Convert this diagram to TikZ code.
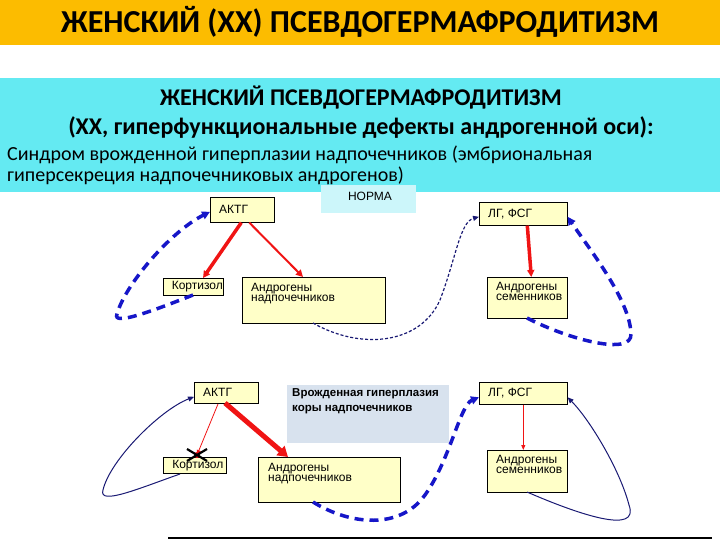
\documentclass[tikz,border=0pt]{standalone}
\usepackage{fontspec}
\setmainfont{Carlito}
\newfontfamily\arialf{Liberation Sans}
\usetikzlibrary{arrows.meta}
\definecolor{titleorange}{RGB}{252,188,0}
\definecolor{cyanband}{RGB}{100,234,242}
\definecolor{normacyan}{RGB}{204,246,250}
\definecolor{boxyellow}{RGB}{255,255,200}
\definecolor{greyblue}{RGB}{216,226,238}
\definecolor{dblue}{RGB}{22,22,200}
\definecolor{navy}{RGB}{25,25,115}
\definecolor{arrred}{RGB}{240,20,20}
\definecolor{baseline}{RGB}{70,85,110}
\tikzset{
  ybox/.style={draw=black, line width=0.6pt, fill=boxyellow, inner sep=0pt, anchor=north west},
  lbl/.style={font=\arialf\fontsize{12}{10.5}\selectfont, inner sep=0pt, align=left},
  redarr/.style={draw=arrred, -{Triangle[length=7pt,width=7pt]}},
  bluedash/.style={draw=dblue, line width=3.5pt, dash pattern=on 9pt off 6pt, -{Triangle[length=8pt,width=8pt]}},
  navyline/.style={draw=navy, line width=1pt, -{Triangle[length=6pt,width=5pt]}},
  navydash/.style={draw=navy, line width=1.2pt, dash pattern=on 3pt off 2pt, -{Triangle[length=6pt,width=5pt]}},
}
\begin{document}
\begin{tikzpicture}[x=1pt,y=-1pt]
\useasboundingbox (0,0) rectangle (720,540);
% header
\fill[titleorange] (0,0) rectangle (720,45);
\node[font=\fontsize{32}{32}\selectfont\bfseries, inner sep=0pt] (title) at (360,22) {ЖЕНСКИЙ (ХХ) ПСЕВДОГЕРМАФРОДИТИЗМ};
\fill[cyanband] (0,78) rectangle (720,192);
\node[font=\fontsize{24}{24}\selectfont\bfseries, inner sep=0pt] (h1) at (361,98) {ЖЕНСКИЙ ПСЕВДОГЕРМАФРОДИТИЗМ};
\node[font=\fontsize{24}{24}\selectfont\bfseries, inner sep=0pt] (h2) at (361,128) {(ХХ, гиперфункциональные дефекты андрогенной оси):};
\node[font=\fontsize{20}{21}\selectfont, inner sep=0pt, anchor=west] (h3) at (7,155) {Синдром врожденной гиперплазии надпочечников (эмбриональная};
\node[font=\fontsize{20}{21}\selectfont, inner sep=0pt, anchor=west] (h4) at (7,176) {гиперсекреция надпочечниковых андрогенов)};
% NORMA
\node[fill=normacyan, minimum width=95pt, minimum height=28pt, anchor=north west, inner sep=0pt] (norma) at (321,185) {};
\node[lbl, anchor=center] (normat) at (370,196) {НОРМА};

% ---- top diagram
\node[ybox, minimum width=64pt, minimum height=25pt] (akth1) at (210,197) {};
\node[lbl, anchor=west] (akth1t) at ([xshift=9pt]akth1.west) {АКТГ};
\node[ybox, minimum width=60pt, minimum height=17pt] (kort1) at (163,278) {};
\node[lbl] (kort1t) at ([xshift=4pt]kort1.center) {Кортизол};
\node[ybox, minimum width=143pt, minimum height=46pt] (and1) at (242,277) {};
\node[lbl, anchor=north west] (and1t) at ([xshift=9pt,yshift=-6pt]and1.north west) {Андрогены\\надпочечников};
\node[ybox, minimum width=88pt, minimum height=23pt] (lg1) at (479,202) {};
\node[lbl, anchor=west] (lg1t) at ([xshift=9pt]lg1.west) {ЛГ, ФСГ};
\node[ybox, minimum width=80pt, minimum height=41pt] (sem1) at (487,277) {};
\node[lbl, anchor=north west] (sem1t) at ([xshift=9pt,yshift=-5pt]sem1.north west) {Андрогены\\семенников};

\draw[redarr, line width=3.5pt] ([xshift=-1pt]akth1.south) -- (203,278);
\draw[redarr, line width=2pt] ([xshift=7pt]akth1.south) -- (303,277);
\draw[redarr, line width=3.5pt] ([xshift=4pt]lg1.south) -- ([xshift=4pt]sem1.north);

\coordinate (c1) at (193,295);
\draw[bluedash] (c1) .. controls (150,312) and (112,326) .. (117,314) .. controls (125,285) and (170,232) .. ([yshift=-2pt]akth1.west);
\coordinate (c2) at (313,323);
\draw[navydash] (c2) .. controls (360,350) and (420,345) .. (440,300) .. controls (456,258) and (460,222) .. ([yshift=-3pt]lg1.west);
\coordinate (c3) at (527,318);
\draw[bluedash] (c3) .. controls (570,340) and (632,356) .. (631,334) .. controls (630,300) and (590,250) .. ([yshift=-3pt]lg1.east);

% ---- bottom diagram
\node[ybox, minimum width=64pt, minimum height=21pt] (akth2) at (194,382) {};
\node[lbl, anchor=west] (akth2t) at ([xshift=9pt]akth2.west) {АКТГ};
\node[ybox, minimum width=63pt, minimum height=16pt] (kort2) at (163,457) {};
\node[lbl] (kort2t) at ([xshift=3pt]kort2.center) {Кортизол};
\node[ybox, minimum width=142pt, minimum height=45pt] (and2) at (258,457) {};
\node[lbl, anchor=north west] (and2t) at ([xshift=10pt,yshift=-6pt]and2.north west) {Андрогены\\надпочечников};
\node[fill=greyblue, minimum width=162pt, minimum height=58pt, anchor=north west, inner sep=0pt] (vg) at (287,385) {};
\node[font=\arialf\bfseries\fontsize{11.5}{15}\selectfont, inner sep=0pt, align=left, anchor=north west] (vgt) at ([xshift=5pt,yshift=-3pt]vg.north west) {Врожденная гиперплазия\\коры надпочечников};
\node[ybox, minimum width=88pt, minimum height=22pt] (lg2) at (479,382) {};
\node[lbl, anchor=west] (lg2t) at ([xshift=9pt]lg2.west) {ЛГ, ФСГ};
\node[ybox, minimum width=80pt, minimum height=42pt] (sem2) at (487,450) {};
\node[lbl, anchor=north west] (sem2t) at ([xshift=9pt,yshift=-5pt]sem2.north west) {Андрогены\\семенников};

\draw[redarr, line width=0.8pt, -{Triangle[length=5pt,width=4pt]}] (218,404) -- (197,455);
\draw[redarr, line width=5pt, -{Triangle[length=10pt,width=12pt]}] (225,403) -- (288,457);
\draw[redarr, line width=0.8pt, -{Triangle[length=5pt,width=4pt]}] (lg2.south) -- (sem2.north -| lg2.south);

\coordinate (xm) at (197,455);
\fill[arrred] (xm) circle (3pt);
\draw[black, line width=2.2pt] ([xshift=-10pt,yshift=-6pt]xm) -- ([xshift=10pt,yshift=6pt]xm);
\draw[black, line width=2.2pt] ([xshift=-10pt,yshift=6pt]xm) -- ([xshift=10pt,yshift=-6pt]xm);

\coordinate (c4) at (180,474);
\draw[navyline] (c4) .. controls (140,488) and (98,506) .. (103,490) .. controls (110,460) and (160,410) .. ([yshift=-4pt]akth2.west);
\coordinate (c5) at (313,502);
\draw[bluedash] (c5) .. controls (350,525) and (400,530) .. (425,495) .. controls (450,460) and (460,405) .. ([yshift=-4pt]lg2.west);
\coordinate (c6) at (527,492);
\draw[navyline] (c6) .. controls (580,515) and (640,535) .. (629,505) .. controls (620,470) and (590,420) .. ([yshift=-4pt]lg2.east);

\coordinate (bl1) at (168,538);
\coordinate (bl2) at (712,538);
\draw[baseline, line width=2pt] (bl1) -- (bl2);
\end{tikzpicture}
\end{document}
